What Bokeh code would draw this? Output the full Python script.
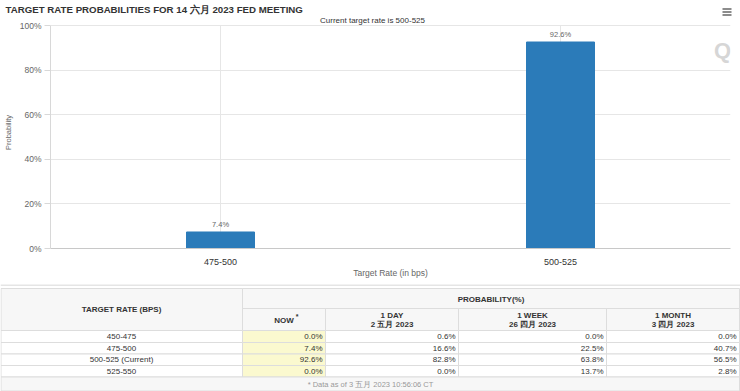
from bokeh.plotting import figure
from bokeh.models import Range1d, FactorRange, Label, PrintfTickFormatter, FixedTicker, ColumnDataSource
from bokeh.layouts import column
from bokeh.core.properties import value
from bokeh.embed import file_html
from bokeh.resources import INLINE

FONT = "Liberation Sans"

# ---------------- data ----------------
title_text = "TARGET RATE PROBABILITIES FOR 14 六月 2023 FED MEETING"
subtitle_text = "Current target rate is 500-525"
bar_rates = ["475-500", "500-525"]
bar_probs = [7.4, 92.6]
bar_labels = ["7.4%", "92.6%"]
y_ticks = [0, 20, 40, 60, 80, 100]

table_rates = ["450-475", "475-500", "500-525 (Current)", "525-550"]
now = [0.0, 7.4, 92.6, 0.0]
one_day = [0.6, 16.6, 82.8, 0.0]
one_week = [0.0, 22.5, 63.8, 13.7]
one_month = [0.0, 40.7, 56.5, 2.8]
col_titles = ["1 DAY", "1 WEEK", "1 MONTH"]
col_dates = ["2 五月 2023", "26 四月 2023", "3 四月 2023"]
footnote_text = "* Data as of 3 五月 2023 10:56:06 CT"

# ---------------- layout geometry (page pixels) ----------------
W = 740
HH = 16                  # header strip (title, menu icon)
CHART_BOTTOM = 284       # chart area ends here
TH = 107                 # table strip
FL, FR, FB = 46, 10, 36  # chart frame borders
Y100 = 25                # page y of the 100% line
Y0 = CHART_BOTTOM - FB   # page y of the 0% line
CH = CHART_BOTTOM - HH
y_end = 100.0 * (Y0 - HH) / (Y0 - Y100)

# ---------------- header ----------------
h = figure(x_range=Range1d(0, W), y_range=Range1d(HH, 0), width=W, height=HH,
           output_backend="svg", toolbar_location=None, x_axis_type=None, y_axis_type=None,
           min_border=0)
h.frame_align = False
h.outline_line_color = None
h.xgrid.visible = False
h.ygrid.visible = False
h.text(x=[5], y=[8.5], text=[title_text], text_align="left", text_baseline="middle",
       text_font=value(FONT), text_font_size="9.7px", text_font_style="bold",
       text_color="#333333")
h.segment(x0=[722, 722, 722], y0=[8.5, 11.5, 14.5], x1=[731, 731, 731], y1=[8.5, 11.5, 14.5],
          line_color="#666666", line_width=1.6)

# ---------------- chart ----------------
p = figure(x_range=FactorRange(*bar_rates), y_range=Range1d(0, y_end),
           width=W, height=CH, output_backend="svg", toolbar_location=None,
           min_border_left=FL, min_border_right=FR, min_border_top=0, min_border_bottom=FB)
p.frame_align = False
p.outline_line_color = None
p.background_fill_color = "white"
p.border_fill_color = "white"

# vertical category grid lines (0% .. 100%)
p.segment(x0=bar_rates, y0=[0] * len(bar_rates), x1=bar_rates, y1=[100] * len(bar_rates),
          line_color="#e6e6e6", line_width=1, level="underlay")

src = ColumnDataSource(dict(x=bar_rates, y=bar_probs, lab=bar_labels))
p.vbar(x="x", top="y", width=0.2, source=src, fill_color="#2b7bb9", line_color="#2b7bb9")
p.text(x="x", y="y", text="lab", source=src, y_offset=-3, text_align="center",
       text_baseline="bottom", text_font_size="7.5px", text_color="#666666",
       text_font=value(FONT))

p.yaxis.ticker = FixedTicker(ticks=y_ticks)
p.yaxis.bounds = (0, 100)
p.yaxis.formatter = PrintfTickFormatter(format="%d%%")
p.yaxis.axis_label = "Probability"
p.yaxis.axis_label_text_font_size = "7.5px"
p.yaxis.axis_label_text_font_style = "normal"
p.yaxis.axis_label_text_color = "#666666"
p.yaxis.axis_label_text_font = FONT
p.yaxis.axis_label_standoff = 4
p.yaxis.major_label_text_font_size = "8.5px"
p.yaxis.major_label_text_color = "#666666"
p.yaxis.major_label_text_font = FONT
p.yaxis.major_label_standoff = 3
p.yaxis.axis_line_color = "#d8d8d8"
p.yaxis.major_tick_line_color = "#d8d8d8"
p.yaxis.major_tick_out = 6
p.yaxis.major_tick_in = 0
p.yaxis.minor_tick_line_color = None

p.xaxis.axis_label = "Target Rate (in bps)"
p.xaxis.axis_label_text_font_size = "8.5px"
p.xaxis.axis_label_text_font_style = "normal"
p.xaxis.axis_label_text_color = "#666666"
p.xaxis.axis_label_text_font = FONT
p.xaxis.axis_label_standoff = 0
p.xaxis.major_label_text_font_size = "9px"
p.xaxis.major_label_text_color = "#333333"
p.xaxis.major_label_text_font = FONT
p.xaxis.major_label_standoff = 4
p.xaxis.axis_line_color = "#c8c8c8"
p.xaxis.major_tick_line_color = None

p.ygrid.grid_line_color = "#e6e6e6"
p.xgrid.visible = False

# screen units are measured from the frame's bottom-left corner
def scr_label(cx, cy, text, **kw):
    p.add_layout(Label(x=cx - FL, y=Y0 - cy, x_units="screen", y_units="screen",
                       text=text, text_baseline="middle", **kw))

scr_label(368, 20, subtitle_text, text_font=FONT, text_font_size="8px",
          text_color="#333333", text_align="center")
scr_label(718, 50, "Q", text_font=FONT, text_font_size="22px", text_font_style="bold",
          text_color="#d6d6d6", text_align="center")

# ---------------- table ----------------
t = figure(x_range=Range1d(0, W), y_range=Range1d(CHART_BOTTOM + TH, CHART_BOTTOM), width=W, height=TH,
           output_backend="svg", toolbar_location=None, x_axis_type=None, y_axis_type=None,
           min_border=0)
t.frame_align = False
t.outline_line_color = None
t.xgrid.visible = False
t.ygrid.visible = False
t.background_fill_color = "white"
t.border_fill_color = "white"

t.segment(x0=[0], y0=[284.5], x1=[740], y1=[284.5], line_color="#cccccc", line_width=1)

cols = [0.5, 242, 325, 458, 606, 739]
hdr_top, hdr_mid, hdr_bot = 288, 308, 330
rows = [330, 342, 353.5, 365, 376.5]
foot_bot = 390.5

L, R, T, B, F = [], [], [], [], []
L += [cols[0], cols[1]]; R += [cols[1], cols[5]]; T += [hdr_top, hdr_top]; B += [hdr_bot, hdr_mid]; F += ["#f7f7f7"] * 2
for j in range(1, 5):
    L.append(cols[j]); R.append(cols[j + 1]); T.append(hdr_mid); B.append(hdr_bot); F.append("#f7f7f7")
for i in range(len(table_rates)):
    for j in range(5):
        L.append(cols[j]); R.append(cols[j + 1]); T.append(rows[i]); B.append(rows[i + 1])
        F.append("#fbf9cf" if j == 1 else "white")
L.append(cols[0]); R.append(cols[5]); T.append(rows[-1]); B.append(foot_bot); F.append("#f7f7f7")
t.quad(left=L, right=R, top=T, bottom=B, fill_color=F, line_color="#dddddd", line_width=1)

def txt(x, y, s, align="center", size="8px", bold=False, color="#333333"):
    t.text(x=[x], y=[y], text=[s], text_align=align, text_baseline="middle",
           text_font=value(FONT), text_font_size=size,
           text_font_style="bold" if bold else "normal", text_color=color)

txt(121, 309, "TARGET RATE (BPS)", bold=True)
txt((cols[1] + cols[5]) / 2, 298.5, "PROBABILITY(%)", bold=True)
txt((cols[1] + cols[2]) / 2, 320, "NOW", bold=True)
txt((cols[1] + cols[2]) / 2 + 13, 316, "*", size="7px", bold=True)
for j in range(3):
    cx = (cols[j + 2] + cols[j + 3]) / 2
    txt(cx, 314.5, col_titles[j], bold=True)
    txt(cx, 323.5, col_dates[j], bold=True)

series = [now, one_day, one_week, one_month]
for i in range(len(table_rates)):
    cy = (rows[i] + rows[i + 1]) / 2
    txt(121, cy, table_rates[i])
    for j, s in enumerate(series):
        txt(cols[j + 2] - 3, cy, "%.1f%%" % s[i], align="right")

txt(370, 384, footnote_text, size="7.5px", color="#999999")

layout = column(h, p, t, spacing=0)
open("out.html", "w").write(file_html(layout, INLINE))
